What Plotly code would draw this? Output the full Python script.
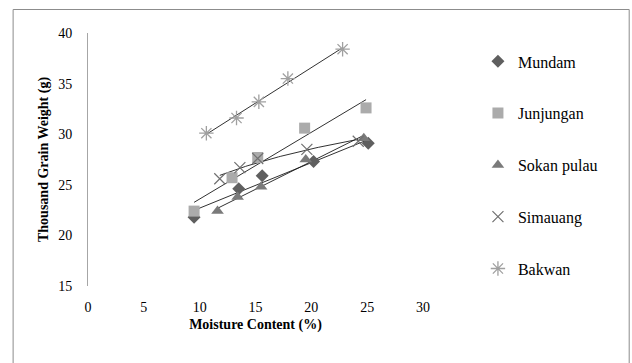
import numpy as np
import plotly.graph_objects as go

# Data
mundam_x = [9.5, 13.5, 15.6, 20.2, 25.1]
mundam_y = [21.8, 24.6, 25.9, 27.3, 29.1]
junjungan_x = [9.5, 12.9, 15.2, 19.4, 24.9]
junjungan_y = [22.4, 25.7, 27.7, 30.6, 32.6]
sokan_x = [11.6, 13.4, 15.5, 19.5, 24.7]
sokan_y = [22.4, 23.8, 24.8, 27.5, 29.6]
simauang_x = [11.8, 13.6, 15.2, 19.6, 24.2]
simauang_y = [25.6, 26.7, 27.6, 28.5, 29.3]
bakwan_x = [10.6, 13.3, 15.3, 17.9, 22.8]
bakwan_y = [30.1, 31.6, 33.2, 35.5, 38.4]

x_ticks = [0, 5, 10, 15, 20, 25, 30]
y_ticks = [15, 20, 25, 30, 35, 40]

serif = "Times New Roman, serif"

series = [
    ("Mundam", mundam_x, mundam_y, dict(symbol="diamond", size=10, color="#5f5f5f"), "lin"),
    ("Junjungan", junjungan_x, junjungan_y, dict(symbol="square", size=11, color="#ababab"), "lin"),
    ("Sokan pulau", sokan_x, sokan_y, dict(symbol="triangle-up", size=11, color="#7a7a7a"), "lin"),
    ("Simauang", simauang_x, simauang_y,
     dict(symbol="x-thin", size=11, color="#707070", line=dict(color="#707070", width=1.2)), "log"),
    ("Bakwan", bakwan_x, bakwan_y,
     dict(symbol="asterisk", size=12, color="#a0a0a0", line=dict(color="#a0a0a0", width=1.3)), "lin"),
]

fig = go.Figure()

# trendlines (fitted from the data)
for name, xs, ys, mk, kind in series:
    xs_a = np.array(xs)
    ys_a = np.array(ys)
    xx = np.linspace(xs_a.min(), xs_a.max(), 60)
    if kind == "lin":
        c = np.polyfit(xs_a, ys_a, 1)
        yy = np.polyval(c, xx)
    else:
        c = np.polyfit(np.log(xs_a), ys_a, 1)
        yy = np.polyval(c, np.log(xx))
    fig.add_trace(go.Scatter(x=xx, y=yy, mode="lines", showlegend=False,
                             line=dict(color="#1a1a1a", width=0.9), hoverinfo="skip"))

for i, (name, xs, ys, mk, kind) in enumerate(series):
    fig.add_trace(go.Scatter(x=xs, y=ys, mode="markers", name=name, marker=mk,
                             legendgroup=name))

tick_font = dict(family=serif, size=14, color="#000000")

fig.update_layout(
    width=632, height=363,
    margin=dict(l=87.5, r=209, t=33, b=77),
    paper_bgcolor="white", plot_bgcolor="white",
    font=dict(family=serif, size=13, color="#000000"),
    showlegend=True,
    legend=dict(x=1.164, y=0.955, xanchor="left", yanchor="top",
                traceorder="grouped", tracegroupgap=28, maxheight=340,
                font=dict(family=serif, size=16, color="#000000"),
                itemwidth=30, bgcolor="rgba(0,0,0,0)"),
    xaxis=dict(range=[0, 30], tickvals=x_ticks, ticktext=[str(v) for v in x_ticks],
               tickfont=tick_font,
               showgrid=False, zeroline=False, showline=False,
               ticks="outside", ticklen=8, tickcolor="rgba(0,0,0,0)",
               title=dict(text="<b>Moisture Content (%)</b>", standoff=5,
                          font=dict(family=serif, size=14, color="#000000"))),
    yaxis=dict(range=[15, 40], tickvals=y_ticks, ticktext=[str(v) for v in y_ticks],
               tickfont=tick_font,
               showgrid=False, zeroline=False, showline=True, linecolor="#a6a6a6", linewidth=1,
               ticks="outside", ticklen=12, tickcolor="rgba(0,0,0,0)",
               title=dict(text="<b>Thousand Grain Weight (g)</b>", standoff=6,
                          font=dict(family=serif, size=14, color="#000000"))),
    shapes=[dict(type="rect", xref="paper", yref="paper",
                 x0=(12.5 - 87.5) / 335.5, x1=(629.5 - 87.5) / 335.5,
                 y0=(286 - 380) / 253, y1=(286 - 9.5) / 253,
                 line=dict(color="#8c8c8c", width=1), layer="below")],
)

fig.write_html("out.html")
